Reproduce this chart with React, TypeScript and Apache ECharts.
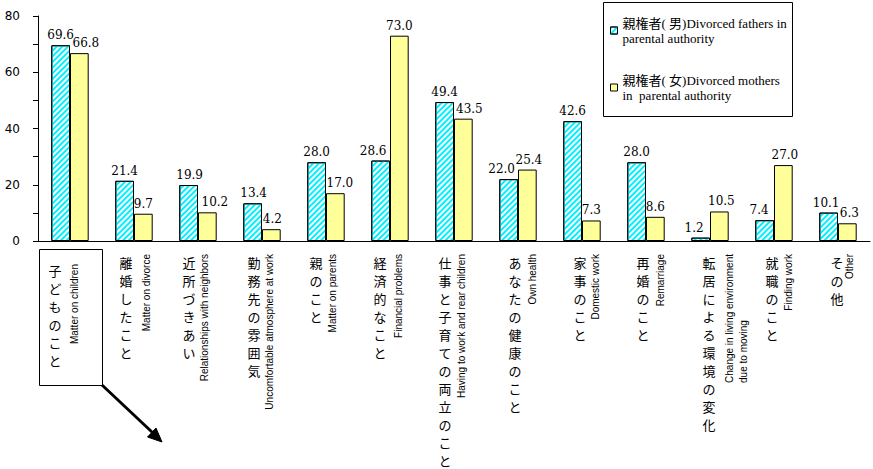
import React, { useEffect, useRef } from 'react';
import * as echarts from 'echarts';

const categoriesJa = ['子どものこと', '離婚したこと', '近所づきあい', '勤務先の雰囲気', '親のこと', '経済的なこと', '仕事と子育ての両立のこと', 'あなたの健康のこと', '家事のこと', '再婚のこと', '転居による環境の変化', '就職のこと', 'その他'];
const categoriesEn = ['Matter on children', 'Matter on divorce', 'Relationships with neighbors', 'Uncomfortable atmosphere at work', 'Matter on parents', 'Financial problems', 'Having to work and rear children', 'Own health', 'Domestic work', 'Remarriage', 'Change in living environment\ndue to moving', 'Finding work', 'Other'];
const fathersValues = [69.6, 21.4, 19.9, 13.4, 28.0, 28.6, 49.4, 22.0, 42.6, 28.0, 1.2, 7.4, 10.1];
const mothersValues = [66.8, 9.7, 10.2, 4.2, 17.0, 73.0, 43.5, 25.4, 7.3, 8.6, 10.5, 27.0, 6.3];
const seriesNames = ['親権者( 男)Divorced fathers in\nparental authority', '親権者( 女)Divorced mothers\nin  parental authority'];
const yTickLabels = [0, 20, 40, 60, 80];

// label placement tweaks (pixels)
const jaShiftX = [-15, -8, -9, -8, -10, -10, -9, -3, -2, -3, -1, -2, -1];
const jaShiftY = [8, 0, 0, 0, 0, 0, 0, 0, 0, 0, 0, 0, 0];
const enShiftX = [4, 12, 6, 7, 6, 8, 7, 14, 13, 14, 26, 14, 11];
const enShiftY = [10, 0, 0, 0, 0, 0, 0, 0, 0, 0, 0, 0, 0];
const fathersLabelDx = [0, 0, 1, 1, 0, -7.5, 0, -7, 0, 0, -6.5, -5.5, -2.5];
const mothersLabelDx = [6.5, 0, 7.5, 1, 4.5, 0, 6, 1.5, 0, 0, 2, 1.5, 2];

export default function App() {
  const ref = useRef<HTMLDivElement>(null);
  useEffect(() => {
    document.body.style.margin = '0';
    if (!ref.current) return;
    const chart = echarts.init(ref.current, null, { renderer: 'svg' });
    const jaData = categoriesJa.map((v, i) => {
      const dx = jaShiftX[i];
      return {
        value: v,
        textStyle: { padding: [jaShiftY[i], dx < 0 ? -2 * dx : 0, 0, dx > 0 ? 2 * dx : 0] },
      };
    });
    const enData = categoriesEn.map((v, i) => ({
      value: v,
      textStyle: { padding: [2 * enShiftX[i], enShiftY[i], 0, 0] },
    }));
    const fathersData = fathersValues.map((v, i) => ({ value: v, label: { offset: [fathersLabelDx[i], 0] } }));
    const mothersData = mothersValues.map((v, i) => ({ value: v, label: { offset: [mothersLabelDx[i], 0] } }));
    const valueLabel = {
      show: true,
      position: 'top',
      distance: 4,
      color: '#000',
      fontFamily: 'DejaVu Serif',
      fontSize: 12,
      formatter: (p: any) => Number(p.value).toFixed(1),
    };
    chart.setOption({
      animation: false,
      backgroundColor: '#fff',
      grid: { left: 38, right: 3, top: 16, bottom: 228, containLabel: false },
      legend: {
        orient: 'vertical',
        left: 610,
        top: 8,
        padding: 0,
        itemWidth: 7,
        itemHeight: 7,
        itemGap: 12,
        icon: 'rect',
        data: seriesNames,
        itemStyle: { borderColor: '#000', borderWidth: 1 },
        textStyle: {
          fontFamily: 'Liberation Serif, Noto Sans CJK JP',
          fontSize: 13,
          lineHeight: 15,
          color: '#000',
          padding: [15, 0, 0, 0],
        },
      },
      xAxis: [
        {
          type: 'category',
          position: 'bottom',
          data: jaData,
          axisLine: { show: true, lineStyle: { color: '#000', width: 1 } },
          axisTick: { show: false },
          axisLabel: {
            interval: 0,
            margin: 12,
            color: '#000',
            fontFamily: 'Noto Sans CJK JP',
            fontSize: 13,
            lineHeight: 18,
            align: 'center',
            verticalAlign: 'top',
            formatter: (v: string) => v.split('').join('\n'),
          },
        },
        {
          type: 'category',
          position: 'bottom',
          data: enData,
          axisLine: { show: false },
          axisTick: { show: false },
          axisLabel: {
            interval: 0,
            rotate: 90,
            margin: 13,
            color: '#000',
            fontFamily: 'Liberation Sans',
            fontSize: 10,
            lineHeight: 14,
            formatter: (v: string) =>
              v.indexOf('\n') >= 0 ? v.split('\n').map((s) => `{l|${s}}`).join('\n') : v,
            rich: {
              l: { align: 'left', fontFamily: 'Liberation Sans', fontSize: 10, lineHeight: 14, color: '#000' },
            },
          },
        },
      ],
      yAxis: {
        type: 'value',
        min: 0,
        max: 80,
        interval: 10,
        axisLine: { show: true, lineStyle: { color: '#000', width: 1 } },
        axisTick: { show: true, length: 5, lineStyle: { color: '#000' } },
        splitLine: { show: false },
        axisLabel: {
          margin: 18,
          color: '#000',
          fontFamily: 'DejaVu Sans',
          fontSize: 12,
          formatter: (v: number) => (yTickLabels.indexOf(v) >= 0 ? String(v) : ''),
        },
      },
      series: [
        {
          type: 'bar',
          name: seriesNames[0],
          data: fathersData,
          xAxisIndex: 0,
          barWidth: 18.7,
          barGap: '0%',
          itemStyle: {
            color: '#ffffff',
            borderColor: '#000',
            borderWidth: 1,
            decal: {
              symbol: 'rect',
              symbolSize: 1,
              color: '#00F0FF',
              dashArrayX: [1, 0],
              dashArrayY: [1.6, 1.4],
              rotation: -Math.PI / 4,
            },
          },
          label: valueLabel,
        },
        {
          type: 'bar',
          name: seriesNames[1],
          data: mothersData,
          xAxisIndex: 0,
          barWidth: 18.7,
          barGap: '0%',
          itemStyle: { color: '#FFFF99', borderColor: '#000', borderWidth: 1 },
          label: valueLabel,
        },
      ],
      graphic: [
        {
          type: 'rect',
          shape: { x: 603.5, y: 2.5, width: 189, height: 114 },
          style: { fill: 'transparent', stroke: '#000', lineWidth: 1 },
          silent: true,
        },
        {
          type: 'rect',
          shape: { x: 39.5, y: 249.5, width: 63, height: 136 },
          style: { fill: 'transparent', stroke: '#000', lineWidth: 1 },
          silent: true,
        },
        {
          type: 'line',
          shape: { x1: 102, y1: 385, x2: 153, y2: 433 },
          style: { stroke: '#000', lineWidth: 3 },
          silent: true,
        },
        {
          type: 'polygon',
          shape: { points: [[162, 442], [147.5, 437], [156, 428]] },
          style: { fill: '#000', stroke: '#000', lineWidth: 1 },
          silent: true,
        },
      ],
    });
    return () => chart.dispose();
  }, []);
  return <div ref={ref} style={{ width: 873, height: 469 }} />;
}
